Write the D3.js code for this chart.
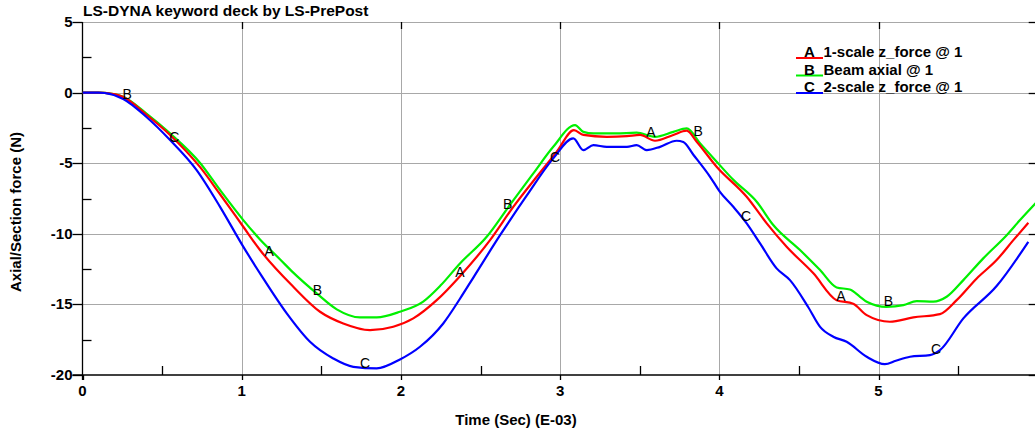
<!DOCTYPE html>
<html>
<head>
<meta charset="utf-8">
<script src="https://cdn.jsdelivr.net/npm/d3@7"></script>
<style>
  html, body { margin: 0; padding: 0; background: #fff; }
  svg { display: block; font-family: "Liberation Sans", Arial, sans-serif; }
</style>
</head>
<body>
<svg id="chart" width="1035" height="434"></svg>
<script>
// ---- data ----
const chartTitle = "LS-DYNA keyword deck by LS-PrePost";
const xTitle = "Time (Sec) (E-03)";
const yTitle = "Axial/Section force (N)";
const xTicks = [0, 1, 2, 3, 4, 5];
const yTicks = [-20, -15, -10, -5, 0, 5];
const seriesNames = ["1-scale z_force @ 1", "Beam axial @ 1", "2-scale z_force @ 1"];
const seriesLetters = ["A", "B", "C"];
const seriesColors = ["#ff0000", "#00f000", "#0000ff"];

const timeA = [0, 0.1, 0.14, 0.256, 0.40, 0.55, 0.74, 0.864, 1.01, 1.115, 1.324, 1.492, 1.638, 1.806, 1.952, 2.078, 2.225, 2.371, 2.56, 2.706, 2.853, 2.979, 3.087, 3.146, 3.293, 3.42, 3.502, 3.596, 3.711, 3.795, 3.858, 3.983, 4.172, 4.298, 4.423, 4.591, 4.737, 4.841, 4.926, 5.071, 5.219, 5.386, 5.491, 5.617, 5.742, 5.847, 5.941];
const forceA = [0, 0, -0.02, -0.32, -1.55, -3.0, -5.3, -7.2, -9.5, -11.15, -13.75, -15.52, -16.35, -16.82, -16.58, -15.99, -14.7, -13.0, -10.45, -8.09, -5.96, -4.19, -2.66, -3.0, -3.13, -3.08, -3.0, -3.41, -3.0, -2.7, -3.48, -5.25, -7.38, -9.26, -10.92, -12.8, -14.7, -14.95, -15.76, -16.23, -15.92, -15.69, -14.7, -13.16, -11.86, -10.45, -9.22];

const timeB = [0, 0.1, 0.14, 0.256, 0.40, 0.55, 0.74, 0.864, 1.01, 1.115, 1.24, 1.324, 1.471, 1.597, 1.743, 1.848, 1.994, 2.14, 2.25, 2.371, 2.539, 2.685, 2.832, 2.957, 3.094, 3.146, 3.21, 3.35, 3.481, 3.596, 3.711, 3.795, 3.88, 3.965, 4.09, 4.235, 4.339, 4.507, 4.633, 4.737, 4.82, 4.884, 4.926, 5.05, 5.156, 5.24, 5.344, 5.428, 5.533, 5.658, 5.805, 5.889, 5.99];
const forceB = [0, 0, -0.02, -0.30, -1.47, -2.89, -5.0, -6.9, -9.03, -10.4, -11.8, -12.75, -14.22, -15.35, -15.92, -15.92, -15.52, -14.8, -13.65, -12.1, -10.21, -7.95, -5.72, -3.84, -2.3, -2.78, -2.89, -2.89, -2.84, -3.13, -2.78, -2.54, -3.6, -4.66, -6.2, -7.73, -9.38, -11.15, -12.57, -13.8, -13.95, -14.46, -14.81, -15.17, -15.05, -14.77, -14.81, -14.46, -13.28, -11.74, -10.1, -9.03, -7.8];

const timeC = [0, 0.1, 0.14, 0.256, 0.40, 0.55, 0.717, 0.864, 1.004, 1.126, 1.283, 1.429, 1.575, 1.701, 1.848, 1.994, 2.12, 2.266, 2.371, 2.455, 2.623, 2.79, 2.957, 3.083, 3.146, 3.209, 3.293, 3.42, 3.481, 3.544, 3.628, 3.732, 3.774, 3.837, 3.942, 4.004, 4.088, 4.172, 4.256, 4.36, 4.444, 4.559, 4.633, 4.716, 4.8, 4.926, 5.04, 5.109, 5.198, 5.323, 5.386, 5.533, 5.742, 5.941];
const forceC = [0, 0, -0.03, -0.45, -1.71, -3.36, -5.49, -8.09, -10.8, -13.0, -15.64, -17.65, -18.83, -19.42, -19.53, -18.9, -18.0, -16.35, -14.6, -13.1, -10.1, -7.3, -4.66, -3.24, -4.07, -3.72, -3.84, -3.84, -3.72, -4.07, -3.84, -3.41, -3.5, -4.4, -5.96, -7.03, -8.09, -9.26, -10.68, -12.45, -13.28, -15.2, -16.59, -17.29, -17.65, -18.71, -19.23, -18.99, -18.71, -18.59, -18.24, -15.99, -13.7, -10.57];

// curve letter markers: [letter, time, force]
const markerLetters = ["B", "C", "A", "B", "C", "A", "B", "C", "A", "B", "C", "A", "B", "C"];
const markerTimes   = [0.28, 0.577, 1.173, 1.475, 1.775, 2.371, 2.671, 2.968, 3.571, 3.868, 4.168, 4.764, 5.062, 5.361];
const markerForces  = [-0.11, -3.13, -11.2, -13.99, -19.14, -12.71, -7.92, -4.59, -2.82, -2.71, -8.75, -14.41, -14.77, -18.17];

// ---- drawing ----
const svg = d3.select("#chart");
const x = d3.scaleLinear().domain([0, 6]).range([82.5, 1037.7]);
const y = d3.scaleLinear().domain([-20, 5]).range([375, 22]);
const xMinor = d3.range(0.5, 6, 1);
const yMinor = d3.range(-17.5, 5, 5);
const gridColor = "#a8a8a8";

const plotL = x(0), plotR = x(6), plotT = y(5), plotB = y(-20);

// grid
const grid = svg.append("g");
grid.selectAll(".gx").data(xTicks.filter(d => d > 0)).join("line")
  .attr("x1", d => Math.round(x(d)) + 0.5).attr("x2", d => Math.round(x(d)) + 0.5)
  .attr("y1", plotT).attr("y2", plotB)
  .attr("stroke", gridColor).attr("stroke-width", 1);
grid.selectAll(".gy").data(yTicks.filter(d => d > -20)).join("line")
  .attr("x1", plotL).attr("x2", plotR)
  .attr("y1", d => Math.round(y(d)) + 0.5).attr("y2", d => Math.round(y(d)) + 0.5)
  .attr("stroke", gridColor).attr("stroke-width", 1);

// axes lines
const ax = svg.append("g").attr("stroke", "#000").attr("stroke-width", 1.3);
ax.append("line").attr("x1", plotL).attr("x2", plotL).attr("y1", plotT).attr("y2", plotB + 5);
ax.append("line").attr("x1", plotL - 10).attr("x2", plotR).attr("y1", plotB).attr("y2", plotB);
// major y ticks outward left
ax.selectAll(".ty").data(yTicks).join("line")
  .attr("x1", plotL - 10).attr("x2", plotL)
  .attr("y1", d => Math.round(y(d)) + 0.5).attr("y2", d => Math.round(y(d)) + 0.5);
// minor y ticks inward
ax.selectAll(".tym").data(yMinor).join("line")
  .attr("x1", plotL).attr("x2", plotL + 9)
  .attr("y1", d => Math.round(y(d)) + 0.5).attr("y2", d => Math.round(y(d)) + 0.5);
// right ticks inward
ax.selectAll(".tyr").data(yTicks).join("line")
  .attr("x1", plotR - 9).attr("x2", plotR)
  .attr("y1", d => Math.round(y(d)) + 0.5).attr("y2", d => Math.round(y(d)) + 0.5);
// major x ticks outward
ax.selectAll(".tx").data(xTicks).join("line")
  .attr("x1", d => Math.round(x(d)) + 0.5).attr("x2", d => Math.round(x(d)) + 0.5)
  .attr("y1", plotB).attr("y2", plotB + 5);
// minor x ticks inward
ax.selectAll(".txm").data(xMinor).join("line")
  .attr("x1", d => Math.round(x(d)) + 0.5).attr("x2", d => Math.round(x(d)) + 0.5)
  .attr("y1", plotB - 9).attr("y2", plotB);
// top ticks inward
ax.selectAll(".txt").data(xTicks.filter(d => d > 0)).join("line")
  .attr("x1", d => Math.round(x(d)) + 0.5).attr("x2", d => Math.round(x(d)) + 0.5)
  .attr("y1", plotT).attr("y2", plotT + 7);

// tick labels
svg.append("g").selectAll("text").data(xTicks).join("text")
  .attr("x", d => x(d)).attr("y", plotB + 21)
  .attr("text-anchor", "middle").attr("font-size", 15).attr("font-weight", "bold")
  .text(d => d);
svg.append("g").selectAll("text").data(yTicks).join("text")
  .attr("x", plotL - 10).attr("y", d => y(d) + 5)
  .attr("text-anchor", "end").attr("font-size", 15).attr("font-weight", "bold")
  .text(d => d);

// titles
svg.append("text").attr("x", 83).attr("y", 16)
  .attr("font-size", 15.5).attr("font-weight", "bold").text(chartTitle);
svg.append("text").attr("x", 516).attr("y", 425)
  .attr("text-anchor", "middle").attr("font-size", 15).attr("font-weight", "bold").text(xTitle);
svg.append("text").attr("transform", "translate(21,212) rotate(-90)")
  .attr("text-anchor", "middle").attr("font-size", 15).attr("font-weight", "bold").text(yTitle);

// curves
const seriesData = [
  d3.zip(timeA, forceA),
  d3.zip(timeB, forceB),
  d3.zip(timeC, forceC)
];
const line = d3.line().x(d => x(d[0])).y(d => y(d[1])).curve(d3.curveMonotoneX);
svg.append("defs").append("clipPath").attr("id", "clip")
  .append("rect").attr("x", plotL).attr("y", plotT).attr("width", plotR - plotL).attr("height", plotB - plotT);
const curves = svg.append("g").attr("clip-path", "url(#clip)");
// draw order: green, red, blue
[1, 0, 2].forEach(i => {
  curves.append("path").datum(seriesData[i])
    .attr("fill", "none").attr("stroke", seriesColors[i]).attr("stroke-width", 2.2)
    .attr("stroke-linejoin", "round").attr("d", line);
});

// letter markers
svg.append("g").selectAll("text").data(d3.range(markerLetters.length)).join("text")
  .attr("x", i => x(markerTimes[i])).attr("y", i => y(markerForces[i]) + 5)
  .attr("text-anchor", "middle").attr("font-size", 14).attr("fill", "#000")
  .text(i => markerLetters[i]);

// legend
const leg = svg.append("g");
seriesNames.forEach((name, i) => {
  const by = 57 + i * 17.5;
  leg.append("line").attr("x1", 796).attr("x2", 823).attr("y1", by + 1).attr("y2", by + 1)
    .attr("stroke", seriesColors[i]).attr("stroke-width", 2);
  leg.append("text").attr("x", 809.5).attr("y", by).attr("text-anchor", "middle")
    .attr("font-size", 15).attr("font-weight", "bold").text(seriesLetters[i]);
  leg.append("text").attr("x", 823.5).attr("y", by)
    .attr("font-size", 15).attr("font-weight", "bold").text(name);
});
</script>
</body>
</html>
